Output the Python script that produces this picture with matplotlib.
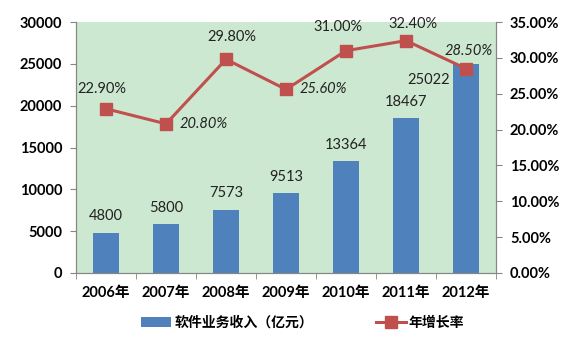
import matplotlib.pyplot as plt
import numpy as np

plt.rcParams['font.family'] = ['Lato', 'Noto Sans CJK SC', 'DejaVu Sans']

years = ["2006年", "2007年", "2008年", "2009年", "2010年", "2011年", "2012年"]
revenue = [4800, 5800, 7573, 9513, 13364, 18467, 25022]
growth = [22.9, 20.8, 29.8, 25.6, 31.0, 32.4, 28.5]
# label offsets in points (dx, dy) and italic flag for growth labels
growth_offsets = [(-3, 14), (27, 0), (4, 16), (27, 0), (-6, 17), (5, 12), (2, 13)]
growth_italic = [False, True, False, True, False, False, True]

fig = plt.figure(figsize=(5.82, 3.38), dpi=100)
ax = fig.add_axes([76 / 582, 1 - 273 / 338, 420 / 582, 251 / 338])
ax2 = ax.twinx()

x = np.arange(len(years))
bars = ax.bar(x, revenue, width=0.42, color="#4f81bd", zorder=2,
              label="软件业务收入（亿元）")
ax.set_facecolor("#cde8d0")
ax.set_xlim(-0.5, len(years) - 0.5)
ax.set_ylim(0, 30000)
ax.set_yticks(range(0, 30001, 5000))
ax.set_xticks(x)
ax.set_xticklabels(years, fontweight="bold", fontsize=10.5)
ax.set_xticks(np.arange(-0.5, len(years), 1), minor=True)
ax.tick_params(axis="x", which="major", length=0, pad=9)
ax.tick_params(axis="x", which="minor", length=4, color="#868686")
ax.tick_params(axis="y", length=4, color="#868686", labelsize=10.5, pad=6)
for lab in ax.get_yticklabels():
    lab.set_fontweight("bold")

for i, v in enumerate(revenue):
    if i == len(revenue) - 1:
        ax.annotate(str(v), (x[i], v), xytext=(-27, -12), textcoords="offset points",
                    ha="center", va="center", fontsize=10.5, color="#222222")
    else:
        ax.annotate(str(v), (x[i], v), xytext=(0, 12), textcoords="offset points",
                    ha="center", va="center", fontsize=10.5, color="#222222")

line, = ax2.plot(x, growth, color="#c0504d", lw=2.2, marker="s", ms=8,
                 zorder=3, label="年增长率")
ax2.set_ylim(0, 35)
ax2.set_yticks(range(0, 36, 5))
ax2.set_yticklabels([f"{t:.2f}%" for t in range(0, 36, 5)], fontweight="bold",
                    fontsize=10.5)
ax2.tick_params(axis="y", length=4, color="#868686", pad=6)

for i, g in enumerate(growth):
    dx, dy = growth_offsets[i]
    ax2.annotate(f"{g:.2f}%", (x[i], g), xytext=(dx, dy), textcoords="offset points",
                 ha="center", va="center", fontsize=10.5, color="#222222",
                 style="italic" if growth_italic[i] else "normal")

for a in (ax, ax2):
    a.spines["top"].set_visible(False)
    for s in ("left", "right", "bottom"):
        a.spines[s].set_color("#868686")

fig.legend([bars, line], ["软件业务收入（亿元）", "年增长率"], loc="center",
           bbox_to_anchor=(0.52, 16 / 338), ncol=2, frameon=False,
           prop={"weight": "bold", "size": 10}, handlelength=2.2,
           columnspacing=4.5, handletextpad=0.2)

fig.savefig("out.png", dpi=100, facecolor="white")
